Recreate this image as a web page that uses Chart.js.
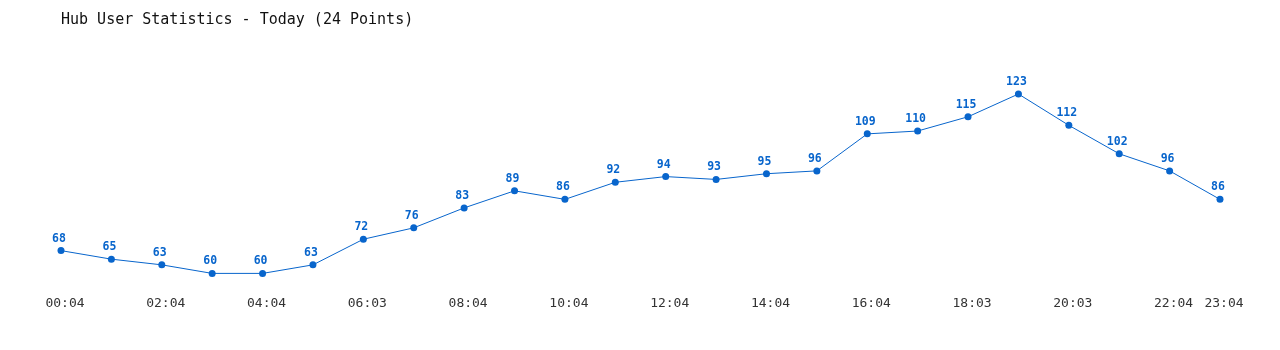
<!DOCTYPE html>
<html>
<head>
<meta charset="utf-8">
<title>Hub User Statistics</title>
<script src="https://cdn.jsdelivr.net/npm/chart.js@4.4.0/dist/chart.umd.min.js"></script>
<style>
  html, body { margin: 0; padding: 0; background: #fff; }
  #wrap { width: 1280px; height: 350px; }
</style>
</head>
<body>
<div id="wrap"><canvas id="myChart" width="1280" height="350"></canvas></div>
<script>
// data
const times = ['00:04', '01:04', '02:04', '03:04', '04:04', '05:04', '06:03', '07:04',
  '08:04', '09:04', '10:04', '11:04', '12:04', '13:04', '14:04', '15:04',
  '16:04', '17:04', '18:03', '19:03', '20:03', '21:04', '22:04', '23:04'];
const users = [68, 65, 63, 60, 60, 63, 72, 76, 83, 89, 86, 92, 94, 93, 95, 96,
  109, 110, 115, 123, 112, 102, 96, 86];

const blue = '#0865cc';

// value labels above each point
const pointLabels = {
  id: 'pointLabels',
  afterDatasetsDraw(chart) {
    const ctx = chart.ctx;
    const meta = chart.getDatasetMeta(0);
    ctx.save();
    ctx.font = 'bold 11.5px "DejaVu Sans Mono", monospace';
    ctx.fillStyle = blue;
    ctx.textAlign = 'center';
    ctx.textBaseline = 'alphabetic';
    meta.data.forEach(function (pt, i) {
      ctx.fillText(String(users[i]), pt.x - 2, pt.y - 9);
    });
    ctx.restore();
  }
};

const config = {
  type: 'line',
  data: {
    labels: times,
    datasets: [{
      data: users,
      borderColor: blue,
      backgroundColor: blue,
      borderWidth: 1,
      pointRadius: 3.5,
      pointHoverRadius: 3.5,
      pointBackgroundColor: blue,
      pointBorderWidth: 0,
      tension: 0,
      clip: false
    }]
  },
  options: {
    responsive: false,
    animation: false,
    events: [],
    layout: {
      padding: { left: 61, right: 60, top: 0, bottom: 17 }
    },
    plugins: {
      legend: { display: false },
      tooltip: { enabled: false },
      title: {
        display: true,
        text: 'Hub User Statistics - Today (24 Points)',
        align: 'start',
        color: '#111',
        font: { family: '"DejaVu Sans Mono", monospace', size: 15, weight: 'normal' },
        padding: { top: 11, bottom: 65 }
      }
    },
    scales: {
      x: {
        offset: false,
        grid: { display: false, drawTicks: false },
        border: { display: false },
        ticks: {
          autoSkip: false,
          maxRotation: 0,
          padding: 22,
          labelOffset: 4,
          color: '#333',
          font: { family: '"DejaVu Sans Mono", monospace', size: 13 },
          callback: function (value, i) {
            return (i % 2 === 0 || i === times.length - 1) ? times[i] : '';
          }
        }
      },
      y: {
        display: false,
        min: 60,
        max: 123
      }
    }
  },
  plugins: [pointLabels]
};

const myChart = new Chart(document.getElementById('myChart'), config);
</script>
</body>
</html>
